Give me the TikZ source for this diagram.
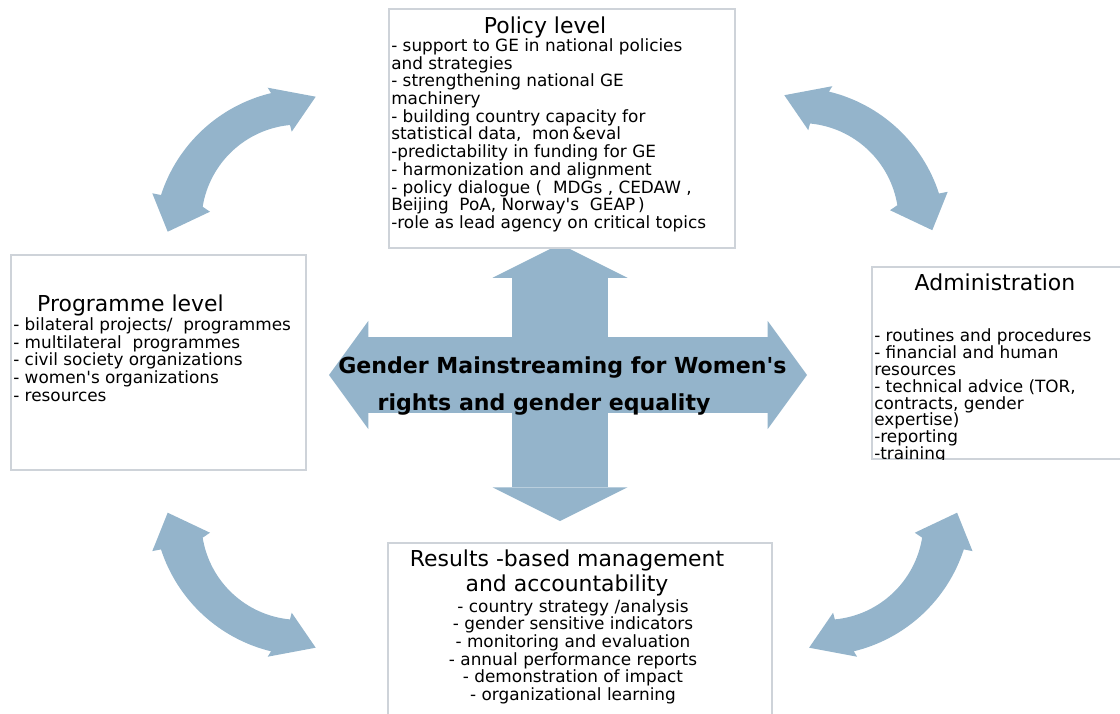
\documentclass[tikz,border=0pt]{standalone}
\usepackage{fontspec}
\setmainfont{DejaVu Sans}[Ligatures=TeXOff]
\usetikzlibrary{arrows.meta}
\definecolor{arrowblue}{RGB}{148,180,203}
\definecolor{boxgray}{RGB}{206,211,217}

\begin{document}
\begin{tikzpicture}[x=0.025cm, y=-0.025cm,
      box/.style={draw=boxgray, fill=white, line width=0.8pt, inner sep=0pt},
      head/.style={font=\fontsize{15.6}{17.3}\selectfont, inner sep=0pt},
      items/.style={font=\fontsize{12}{12.6}\selectfont, inner sep=0pt, align=left, anchor=north west},
      bowshape/.pic={\fill[arrowblue] (267.7,87.7) -- (315.7,96.7) -- (291.7,131.7) -- (290,125)
        arc[start angle=264.6, end angle=189.2, radius=97.8] -- (210,211.7) -- (167.7,231.7) -- (152.3,193.3) -- (161,195)
        arc[start angle=198, end angle=256.4, radius=153.7] -- cycle;},
      crossh/.style={draw=arrowblue, line width=54pt, >={Triangle[length=28pt, width=77pt, line width=0pt]}, <->},
      crossv/.style={draw=arrowblue, line width=67.6pt, >={Triangle[length=24pt, width=96pt, line width=0pt]}, <->}]
      \useasboundingbox (0,0) rectangle (1120,713);
      \coordinate (crossW) at (329,375);
      \coordinate (crossE) at (807,375);
      \coordinate (crossN) at (560,244);
      \coordinate (crossS) at (560,521);
      \draw[crossh] (crossW) -- (crossE);
      \draw[crossv] (crossN) -- (crossS);
      \pic (bowNW) at (0,0) {bowshape};
      \pic[xscale=-1] (bowNE) at (1100,-1.5) {bowshape};
      \pic[yscale=-1] (bowSW) at (0,744.4) {bowshape};
      \pic[xscale=-1, yscale=-1] (bowSE) at (1124.8,744.4) {bowshape};
      \node[font=\fontsize{15.7}{26.3}\selectfont\bfseries, inner sep=0pt, align=left, anchor=north west] (gm) at (338,356.5)
        {Gender Mainstreaming for Women's\\\hspace*{28pt}rights and gender equality};
      \node[box, minimum width=8.65cm, minimum height=5.975cm] (policy) at (562,128.5) {};
      \node[head, anchor=base] (policytitle) at (545,33) {Policy level};
      \node[items] (policyitems) at (391,38.2) {- support to GE in national policies\\and strategies\\- strengthening national GE\\machinery\\- building country capacity for\\statistical data,\ \ mon\,\&eval\\-predictability in funding for GE\\- harmonization and alignment\\- policy dialogue (\ \ MDGs , CEDAW ,\\Beijing\ \ PoA, Norway's\ \ GEAP\,)\\-role as lead agency on critical topics};
      \node[box, minimum width=7.375cm, minimum height=5.375cm] (programme) at (158.5,362.5) {};
      \node[head, anchor=base] (programmetitle) at (130.5,311) {Programme level};
      \node[items] (programmeitems) at (13,317.2) {- bilateral projects/\ \ programmes\\- multilateral\ \ programmes\\- civil society organizations\\- women's organizations\\- resources};
      \node[box, minimum width=6.25cm, minimum height=4.8cm] (admin) at (997,363) {};
      \node[head, anchor=base] (admintitle) at (995,290) {Administration};
      \begin{scope}
        \clip (admin.south west) rectangle (admin.north east);
        \node[items, font=\fontsize{12}{12}\selectfont] (adminitems) at (874,328.4) {- routines and procedures\\- financial and human\\resources\\- technical advice (TOR,\\contracts, gender\\expertise)\\-reporting\\-training};
      \end{scope}
      \node[box, minimum width=9.6cm, minimum height=4.325cm] (results) at (580,629.5) {};
      \node[head, align=center, anchor=north] (resultstitle) at (567,550) {Results -based management\\and accountability};
      \node[items, align=center, anchor=north] (resultsitems) at (573,599) {- country strategy /analysis\\- gender sensitive indicators\\- monitoring and evaluation\\- annual performance reports\\- demonstration of impact\\- organizational learning};
\end{tikzpicture}
\end{document}
